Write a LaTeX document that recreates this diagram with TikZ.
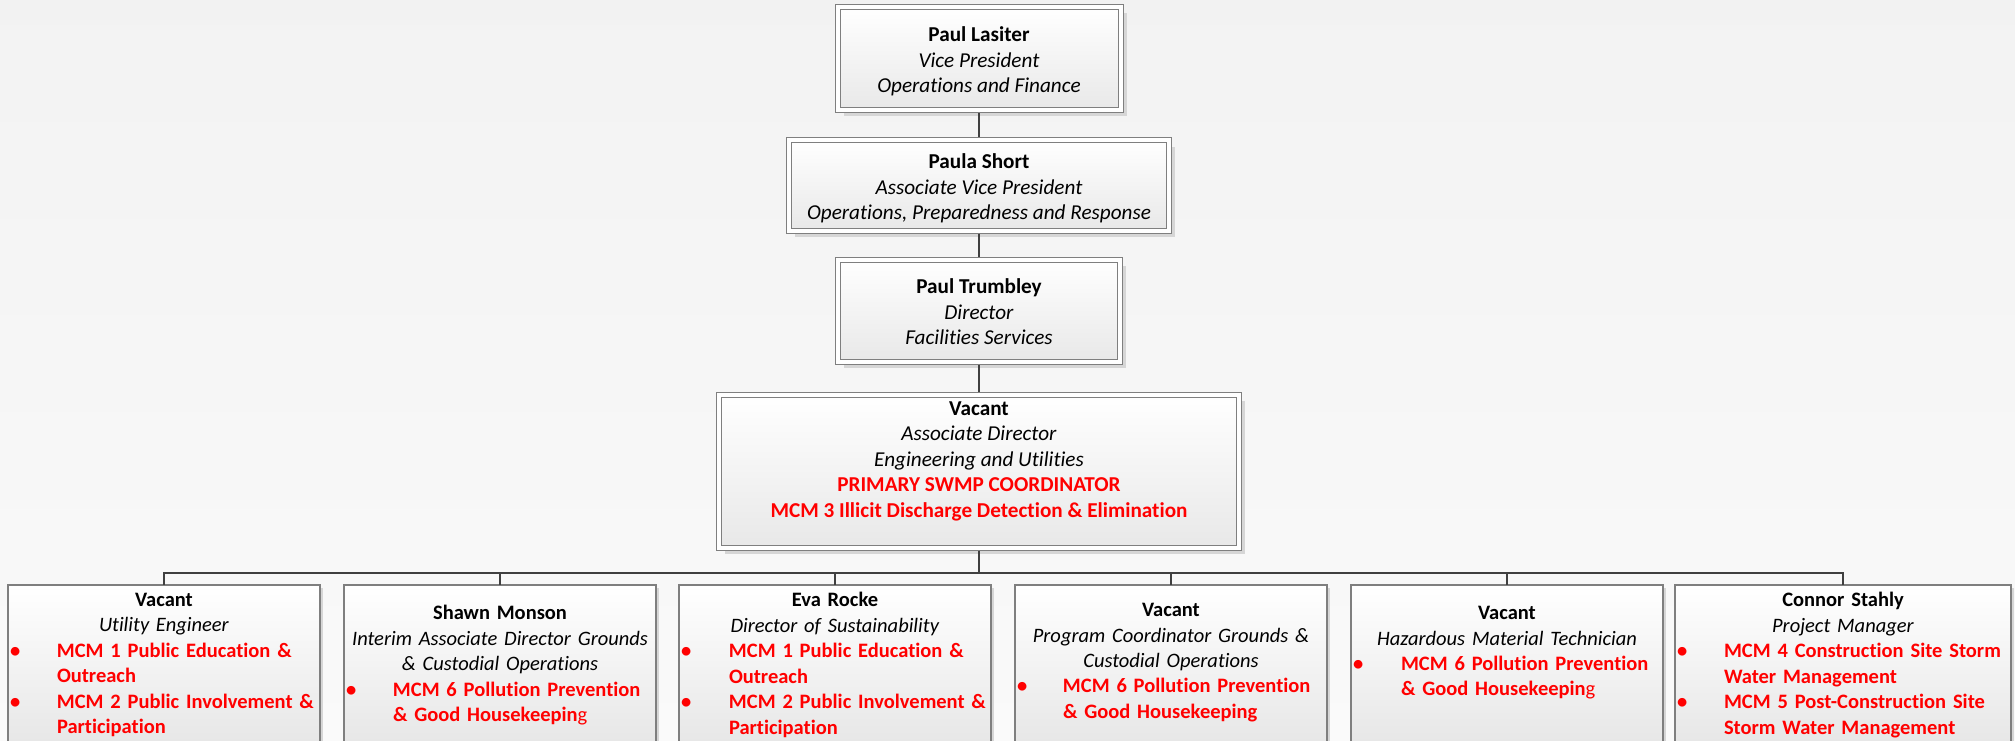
\documentclass[tikz,border=0pt]{standalone}
\usepackage{fontspec}
\setmainfont{Carlito}[Ligatures=NoCommon]
\usepackage{xcolor}
\usepackage{tikz}
\usetikzlibrary{positioning, shadows}

\definecolor{boxline}{HTML}{7F7F7F}
\definecolor{wire}{HTML}{404040}
\definecolor{mcm}{HTML}{FF0000}

\begin{document}
\begin{tikzpicture}[
    x=1pt, y=-1pt,
    font=\fontsize{21.2}{25.5}\selectfont,
    head/.style={rectangle, draw=boxline, line width=1pt, double=white, double distance=4pt, top color=white, bottom color=black!9, drop shadow={shadow xshift=6pt, shadow yshift=-6pt, fill=black!16, opacity=1}, align=center, inner sep=2pt, outer sep=3pt},
    member/.style={rectangle, draw=boxline, line width=1.2pt, top color=white, bottom color=black!12, drop shadow={shadow xshift=3pt, shadow yshift=-3pt, fill=black!16, opacity=1}, minimum width=312pt, minimum height=200pt, inner sep=0pt, outer sep=0pt},
    memtext/.style={anchor=north, text width=352pt, inner sep=0pt, font=\fontsize{20.5}{25.5}\selectfont},
    conn/.style={draw=wire, line width=2.2pt},
]
\useasboundingbox (0,0) rectangle (2015,741);
\shade[top color=black!5, bottom color=black!2] (0,0) rectangle (2015,741);
\clip (0,0) rectangle (2015,741);

% management chain
\node[head, minimum width=283pt, minimum height=103pt] (lasiter) at (979,59) {\rule{0pt}{20pt}\textbf{Paul Lasiter}\\\textit{Vice President}\\\textit{Operations and Finance}};
\node[head, minimum width=380pt, minimum height=90pt, below=24pt of lasiter] (short) {\rule{0pt}{21pt}\textbf{Paula Short}\\\textit{Associate Vice President}\\\textit{Operations, Preparedness and Response}};
\node[head, minimum width=282pt, minimum height=102pt, below=23pt of short] (trumbley) {\rule{0pt}{18pt}\textbf{Paul Trumbley}\\\textit{Director}\\\textit{Facilities Services}};
\node[head, minimum width=520pt, minimum height=153pt, below=27pt of trumbley] (assocdir) {\textbf{Vacant}\\\textit{Associate Director}\\\textit{Engineering and Utilities}\\\textcolor{mcm}{\textbf{PRIMARY SWMP COORDINATOR}}\\\textcolor{mcm}{\textbf{MCM 3 Illicit Discharge Detection \& Elimination}}\\[-10pt]\strut};

% staff row
\node[member, anchor=north] (eng) at (164,585) {};
\node[member, right=24pt of eng] (monson) {};
\node[member, right=23pt of monson] (rocke) {};
\node[member, right=24pt of rocke] (coord) {};
\node[member, right=24pt of coord] (hazmat) {};
\node[member, minimum width=336pt, right=12pt of hazmat] (stahly) {};

\node[memtext] (engtxt) at ([yshift=-8pt]eng.north) {\centering\textbf{Vacant}\\\textit{Utility Engineer}\par
  \raggedright\leftskip=69pt\color{mcm}\bfseries
  \leavevmode\llap{\makebox[47pt][l]{\textbullet}}MCM 1 Public Education \&\\Outreach\par
  \leavevmode\llap{\makebox[47pt][l]{\textbullet}}MCM 2 Public Involvement \&\\Participation\par};
\node[memtext] (monsontxt) at ([yshift=-20pt]monson.north) {\centering\textbf{Shawn Monson}\\\textit{Interim Associate Director Grounds}\\\textit{\& Custodial Operations}\par
  \raggedright\leftskip=69pt\color{mcm}\bfseries
  \leavevmode\llap{\makebox[47pt][l]{\textbullet}}MCM 6 Pollution Prevention\\\& Good Housekeepin{\mdseries g}\par};
\node[memtext] (rocketxt) at ([yshift=-7pt]rocke.north) {\centering\textbf{Eva Rocke}\\\textit{Director of Sustainability}\par
  \raggedright\leftskip=70pt\color{mcm}\bfseries
  \leavevmode\llap{\makebox[48pt][l]{\textbullet}}MCM 1 Public Education \&\\Outreach\par
  \leavevmode\llap{\makebox[48pt][l]{\textbullet}}MCM 2 Public Involvement \&\\Participation\par};
\node[memtext] (coordtxt) at ([yshift=-18pt]coord.north) {\centering\textbf{Vacant}\\\textit{Program Coordinator Grounds \&}\\\textit{Custodial Operations}\par
  \raggedright\leftskip=68pt\color{mcm}\bfseries
  \leavevmode\llap{\makebox[46pt][l]{\textbullet}}MCM 6 Pollution Prevention\\\& Good Housekeeping\par};
\node[memtext] (hazmattxt) at ([yshift=-21pt]hazmat.north) {\centering\textbf{Vacant}\\\textit{Hazardous Material Technician}\par
  \raggedright\leftskip=70pt\color{mcm}\bfseries
  \leavevmode\llap{\makebox[48pt][l]{\textbullet}}MCM 6 Pollution Prevention\\\& Good Housekeepin{\mdseries g}\par};
\node[memtext, text width=376pt] (stahlytxt) at ([yshift=-7pt]stahly.north) {\centering\textbf{Connor Stahly}\\\textit{Project Manager}\par
  \raggedright\leftskip=69pt\color{mcm}\bfseries
  \leavevmode\llap{\makebox[47pt][l]{\textbullet}}MCM 4 Construction Site Storm\\Water Management\par
  \leavevmode\llap{\makebox[47pt][l]{\textbullet}}MCM 5 Post-Construction Site\\Storm Water Management\par};

% reporting lines
\draw[conn] (lasiter) -- (short);
\draw[conn] (short) -- (trumbley);
\draw[conn] (trumbley) -- (assocdir);
\coordinate[below=22.5pt of assocdir] (bus);
\draw[conn] (assocdir.south) -- (bus);
\foreach \m in {eng,monson,rocke,coord,hazmat,stahly}
  \draw[conn] (bus) -| (\m.north);
\end{tikzpicture}
\end{document}
